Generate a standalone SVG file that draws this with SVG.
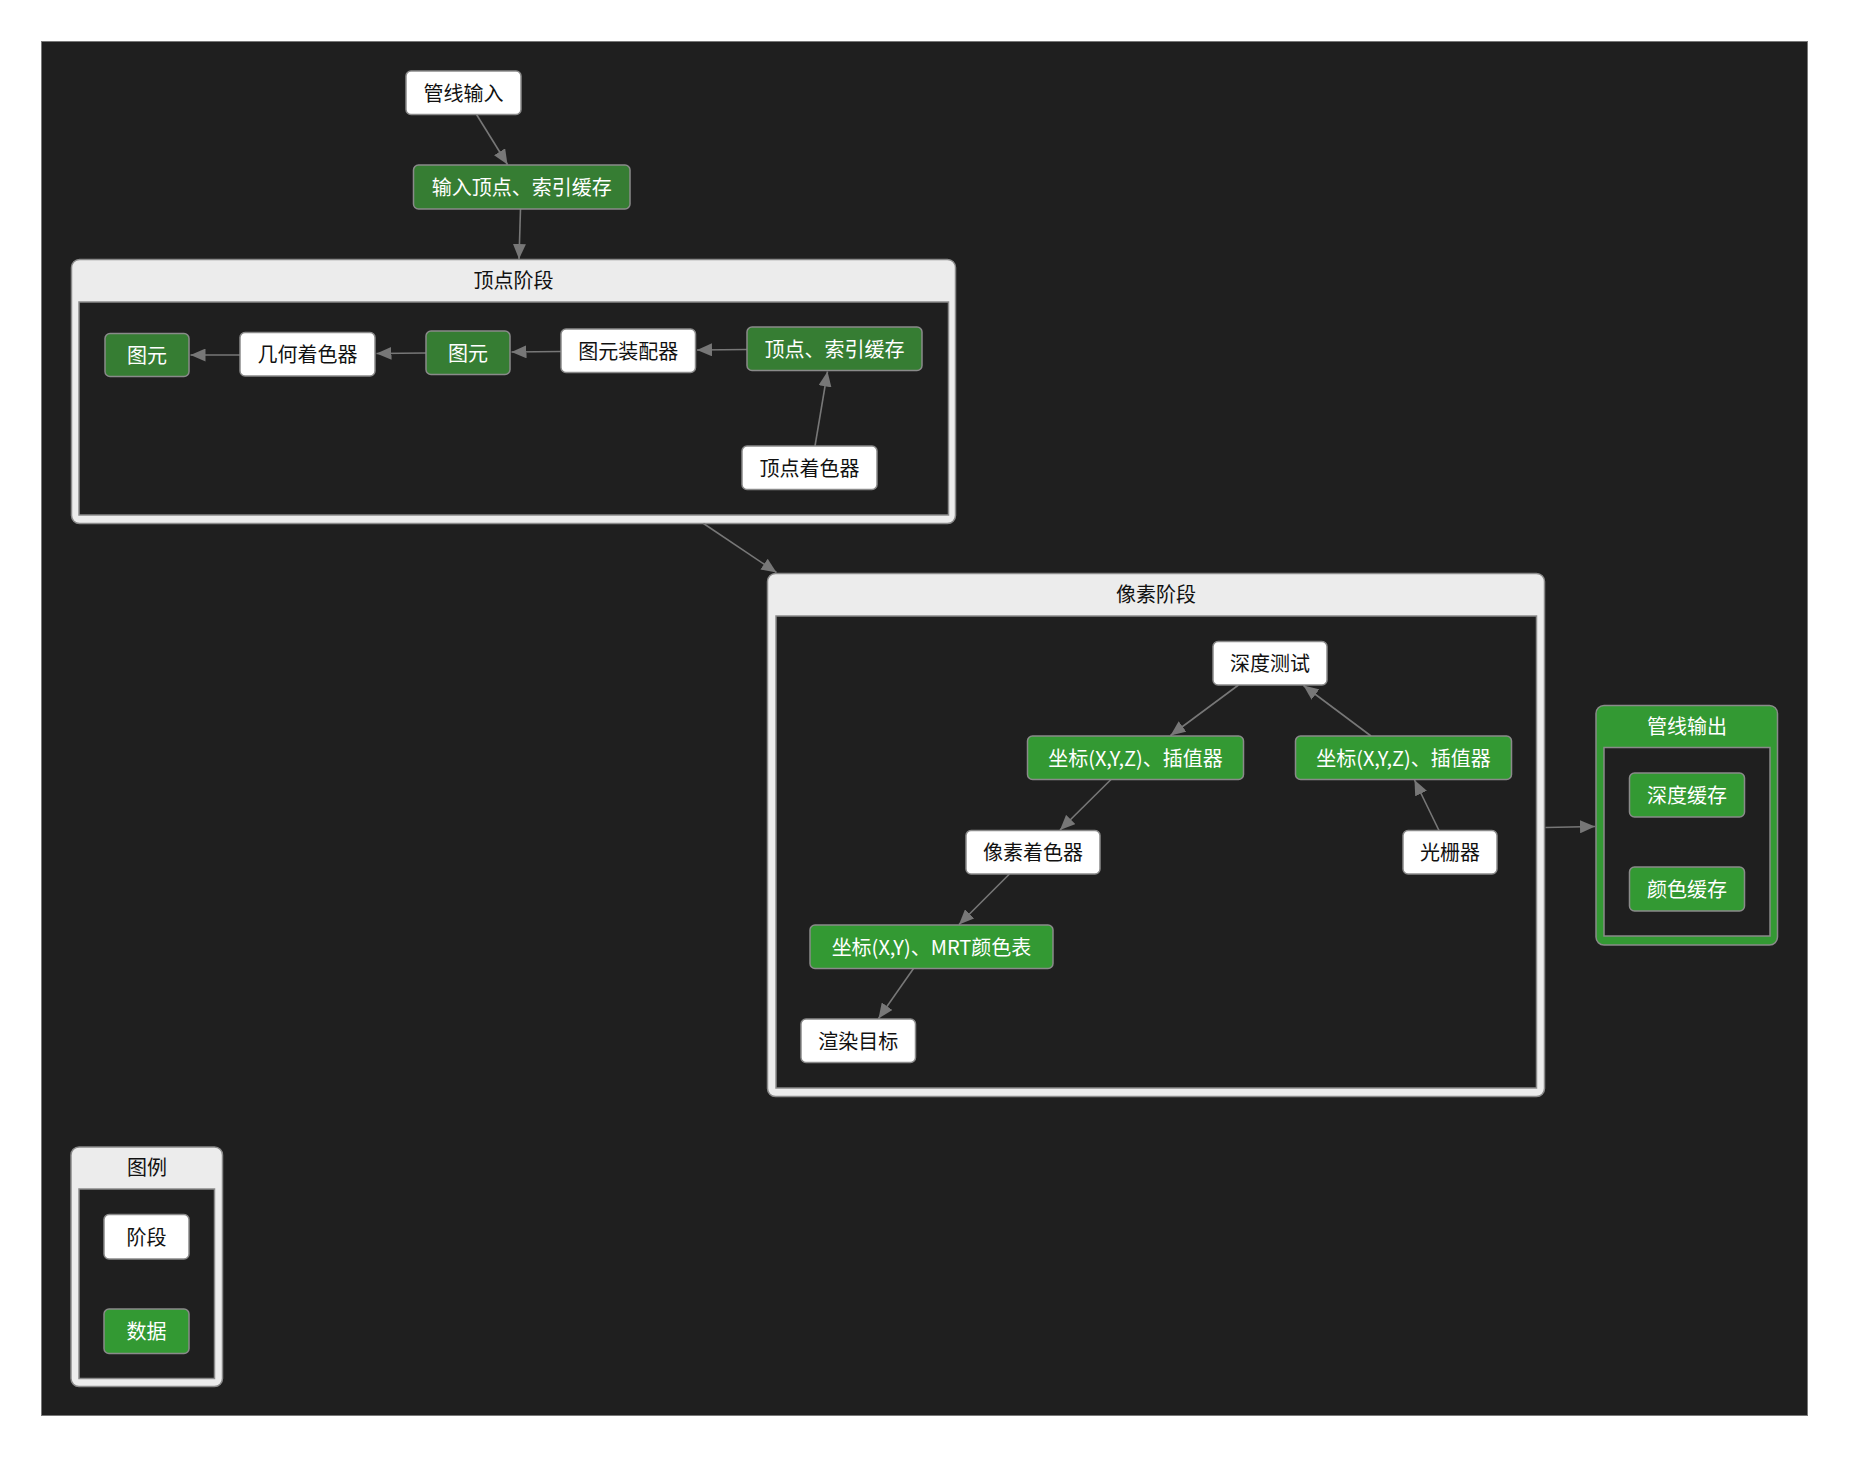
<svg xmlns="http://www.w3.org/2000/svg" width="1849" height="1457" viewBox="0 0 1849 1457">
  <defs>
    <style>
      text { font-family: "Noto Sans CJK SC", "Liberation Sans", sans-serif; font-size: 20px; text-anchor: middle; dominant-baseline: central; }
      .stage rect { fill: #ffffff; stroke: #8a8a8a; stroke-width: 1.5; }
      .stage text { fill: #111111; }
      .data rect { fill: #367d33; stroke: #8a8a8a; stroke-width: 1.5; }
      .data text { fill: #ffffff; }
      .data2 rect { fill: #339933; stroke: #8a8a8a; stroke-width: 1.5; }
      .data2 text { fill: #ffffff; }
      .frame { fill: #ececec; stroke: #8a8a8a; stroke-width: 1.5; }
      .frame-green { fill: #339933; stroke: #8a8a8a; stroke-width: 1.5; }
      .inner { fill: #1f1f1f; stroke: #8a8a8a; stroke-width: 1.5; }
      .title { fill: #111111; }
      .title-light { fill: #ffffff; }
      .edge { stroke: #777777; stroke-width: 1.6; fill: none; marker-end: url(#arrow); }
    </style>
    <marker id="arrow" markerUnits="userSpaceOnUse" markerWidth="16" markerHeight="13" refX="15" refY="6.5" orient="auto">
      <path d="M0,0 L15,6.5 L0,13 z" fill="#777777"/>
    </marker>
  </defs>

  <!-- canvas -->
  <rect x="0" y="0" width="1849" height="1457" fill="#ffffff"/>
  <rect x="41.5" y="41.5" width="1766" height="1374" fill="#1f1f1f" stroke="#777777" stroke-width="1"/>

  <!-- vertex stage container -->
  <g id="vertex-stage">
    <rect class="frame" x="71.5" y="259.5" width="884" height="264" rx="8"/>
    <rect class="inner" x="79" y="302" width="869.5" height="213"/>
    <text class="title" x="513.5" y="279.5">顶点阶段</text>
  </g>

  <!-- pixel stage container -->
  <g id="pixel-stage">
    <rect class="frame" x="767.5" y="573.5" width="777" height="523" rx="8"/>
    <rect class="inner" x="776" y="616" width="760.5" height="472"/>
    <text class="title" x="1156" y="593.5">像素阶段</text>
  </g>

  <!-- pipeline output container -->
  <g id="pipeline-output">
    <rect class="frame-green" x="1596" y="705.5" width="181.5" height="239.5" rx="8"/>
    <rect class="inner" x="1604" y="747.5" width="166" height="188.5"/>
    <text class="title-light" x="1687" y="725">管线输出</text>
  </g>

  <!-- legend container -->
  <g id="legend">
    <rect class="frame" x="71" y="1147" width="151.5" height="239.5" rx="8"/>
    <rect class="inner" x="79" y="1189" width="135.5" height="189.5"/>
    <text class="title" x="147" y="1166.5">图例</text>
  </g>

  <!-- connectors -->
  <g id="edges">
    <line class="edge" x1="476.5" y1="114.5" x2="507.5" y2="164.5"/>
    <line class="edge" x1="520.5" y1="209" x2="519" y2="259"/>
    <line class="edge" x1="703.5" y1="523.5" x2="776.5" y2="572.5"/>
    <line class="edge" x1="1545.5" y1="827.5" x2="1595" y2="826.5"/>
    <line class="edge" x1="747" y1="349.5" x2="697" y2="350"/>
    <line class="edge" x1="561" y1="351.5" x2="511.5" y2="352"/>
    <line class="edge" x1="426" y1="353" x2="376.5" y2="353.5"/>
    <line class="edge" x1="240" y1="355" x2="190.5" y2="355"/>
    <line class="edge" x1="815" y1="446" x2="827.5" y2="371.5"/>
    <line class="edge" x1="1238.5" y1="685" x2="1170.5" y2="735.5"/>
    <line class="edge" x1="1371" y1="736" x2="1303.5" y2="685.5"/>
    <line class="edge" x1="1111" y1="779.5" x2="1060" y2="830"/>
    <line class="edge" x1="1439" y1="830.5" x2="1414.5" y2="780"/>
    <line class="edge" x1="1009.5" y1="874" x2="959" y2="924.5"/>
    <line class="edge" x1="913.5" y1="968.5" x2="878.5" y2="1018.5"/>
  </g>

  <!-- top nodes -->
  <g id="pipeline-input" class="stage">
    <rect x="406" y="71" width="115" height="43.5" rx="5"/>
    <text x="463.5" y="92">管线输入</text>
  </g>
  <g id="input-vertex-index-buffer" class="data">
    <rect x="413.5" y="165" width="216.5" height="44" rx="5"/>
    <text x="521.75" y="186.5">输入顶点、索引缓存</text>
  </g>

  <!-- vertex stage nodes -->
  <g id="primitive-out" class="data">
    <rect x="105" y="333.5" width="84" height="43" rx="5"/>
    <text x="147" y="354.5">图元</text>
  </g>
  <g id="geometry-shader" class="stage">
    <rect x="240" y="332.5" width="135" height="43.5" rx="5"/>
    <text x="307.5" y="353.5">几何着色器</text>
  </g>
  <g id="primitive" class="data">
    <rect x="426" y="331" width="84" height="43.5" rx="5"/>
    <text x="468" y="352">图元</text>
  </g>
  <g id="primitive-assembler" class="stage">
    <rect x="561" y="329" width="134.5" height="43.5" rx="5"/>
    <text x="628.25" y="350">图元装配器</text>
  </g>
  <g id="vertex-index-buffer" class="data">
    <rect x="747" y="327" width="175" height="43.5" rx="5"/>
    <text x="834.5" y="348">顶点、索引缓存</text>
  </g>
  <g id="vertex-shader" class="stage">
    <rect x="742" y="446" width="135" height="43.5" rx="5"/>
    <text x="809.5" y="467">顶点着色器</text>
  </g>

  <!-- pixel stage nodes -->
  <g id="depth-test" class="stage">
    <rect x="1213" y="641.5" width="114" height="43.5" rx="5"/>
    <text x="1270" y="662.5">深度测试</text>
  </g>
  <g id="xyz-interp-left" class="data2">
    <rect x="1027.5" y="736" width="216" height="43.5" rx="5"/>
    <text x="1135.5" y="757">坐标(X,Y,Z)、插值器</text>
  </g>
  <g id="xyz-interp-right" class="data2">
    <rect x="1295.5" y="736" width="216" height="43.5" rx="5"/>
    <text x="1403.5" y="757">坐标(X,Y,Z)、插值器</text>
  </g>
  <g id="pixel-shader" class="stage">
    <rect x="966" y="830.5" width="134" height="43.5" rx="5"/>
    <text x="1033" y="851.5">像素着色器</text>
  </g>
  <g id="rasterizer" class="stage">
    <rect x="1403" y="830.5" width="94" height="43.5" rx="5"/>
    <text x="1450" y="851.5">光栅器</text>
  </g>
  <g id="xy-mrt-colors" class="data2">
    <rect x="810" y="925" width="243" height="43.5" rx="5"/>
    <text x="931.5" y="946">坐标(X,Y)、MRT颜色表</text>
  </g>
  <g id="render-target" class="stage">
    <rect x="801" y="1019" width="114.5" height="43.5" rx="5"/>
    <text x="858.25" y="1040">渲染目标</text>
  </g>

  <!-- pipeline output nodes -->
  <g id="depth-buffer" class="data2">
    <rect x="1629.5" y="773" width="115" height="44" rx="5"/>
    <text x="1687" y="794.5">深度缓存</text>
  </g>
  <g id="color-buffer" class="data2">
    <rect x="1629.5" y="867" width="115" height="44" rx="5"/>
    <text x="1687" y="888.5">颜色缓存</text>
  </g>

  <!-- legend nodes -->
  <g id="legend-stage" class="stage">
    <rect x="104" y="1214.5" width="85" height="44.5" rx="5"/>
    <text x="146.5" y="1236">阶段</text>
  </g>
  <g id="legend-data" class="data2">
    <rect x="104" y="1309" width="85" height="44.5" rx="5"/>
    <text x="146.5" y="1330.5">数据</text>
  </g>
</svg>
